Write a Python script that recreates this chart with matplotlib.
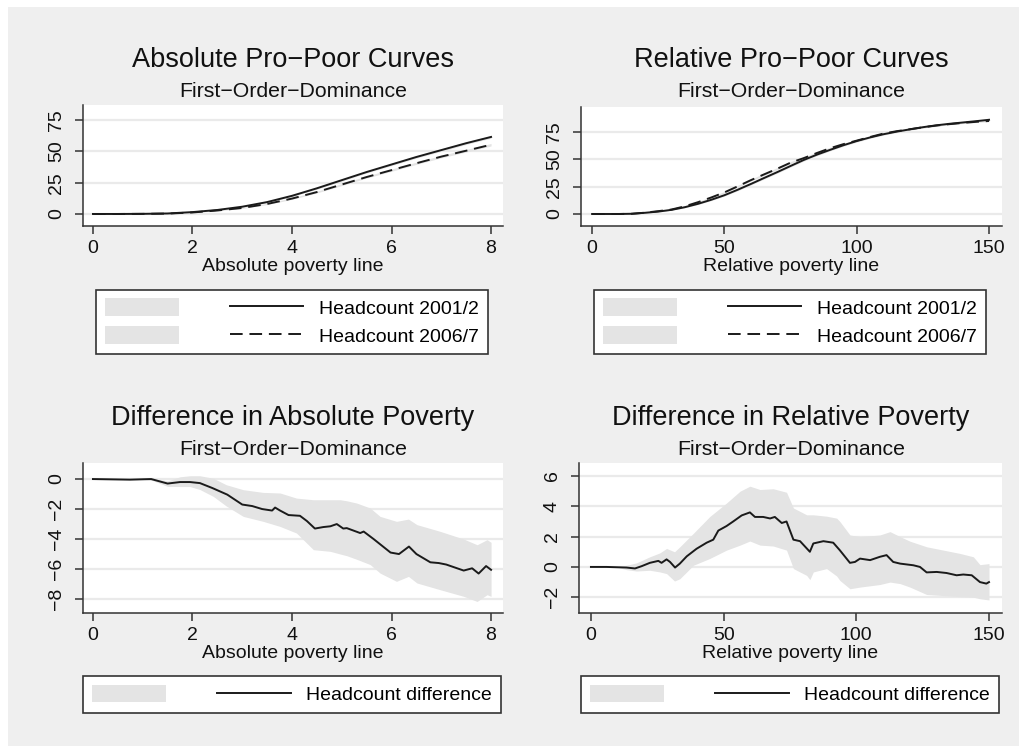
import matplotlib
matplotlib.use("Agg")
import matplotlib.pyplot as plt
import numpy as np
from matplotlib.patches import Patch, Rectangle
from matplotlib.lines import Line2D

plt.rcParams['font.family'] = ['Liberation Sans', 'DejaVu Sans']

# ---------------- data ----------------
# Absolute pro-poor curves (headcount, %)
abs_x = [0, 0.5, 1, 1.5, 2, 2.5, 3, 3.5, 4, 4.5, 5, 5.5, 6, 6.5, 7, 7.5, 8]
abs_h2001 = [0, 0, 0.1, 0.4, 1.5, 3.2, 5.8, 9.5, 14.5, 20.5, 27.0, 33.5, 39.5, 45.5, 51.0, 56.5, 61.5]
abs_h2006 = [0, 0, 0.1, 0.3, 1.2, 2.8, 4.8, 8.0, 12.3, 17.5, 23.5, 29.5, 35.0, 40.5, 45.8, 50.5, 55.3]
abs_ci_hw = [0, 0, 0, 0.1, 0.2, 0.3, 0.4, 0.5, 0.6, 0.7, 0.8, 0.8, 0.9, 0.9, 1.0, 1.0, 1.0]

# Relative pro-poor curves (headcount, %)
rel_x = [0, 5, 10, 15, 20, 25, 30, 35, 40, 45, 50, 55, 60, 65, 70, 75, 80,
         85, 90, 95, 100, 105, 110, 115, 120, 125, 130, 135, 140, 145, 150]
rel_h2001 = [0, 0, 0, 0.2, 1.1, 2.2, 3.8, 6.2, 9.3, 13.0, 17.2, 22.2, 27.5, 33.0, 38.4, 44.0,
             49.5, 54.4, 58.8, 63.0, 66.8, 70.1, 73.0, 75.4, 77.5, 79.5, 81.2, 82.6, 83.8, 85.0, 86.3]
rel_h2006 = [0, 0, 0, 0.2, 1.2, 2.6, 4.1, 7.0, 10.8, 15.1, 19.8, 25.3, 31.0, 36.3, 41.5, 47.0,
             51.2, 55.9, 60.3, 64.0, 67.2, 70.5, 73.6, 75.8, 77.6, 79.4, 81.0, 82.3, 83.4, 84.4, 85.2]
rel_ci_hw = [0, 0, 0, 0.1, 0.2, 0.3, 0.4, 0.5, 0.6, 0.7, 0.8, 0.9, 0.9, 1.0, 1.0, 1.0,
             1.0, 1.0, 0.9, 0.9, 0.9, 0.8, 0.8, 0.8, 0.7, 0.7, 0.7, 0.6, 0.6, 0.6, 0.6]

# Difference in absolute poverty
dabs_x = [0, 0.74, 1.17, 1.5, 1.75, 1.95, 2.15, 2.4, 2.7, 3.0, 3.2, 3.4, 3.6, 3.66, 3.76, 3.93,
          4.16, 4.3, 4.46, 4.63, 4.77, 4.9, 5.03, 5.1, 5.37, 5.44, 5.64, 5.98, 6.15, 6.35, 6.5,
          6.78, 6.95, 7.1, 7.45, 7.62, 7.75, 7.9, 8.0]
dabs_y = [0, -0.04, 0, -0.3, -0.2, -0.2, -0.27, -0.6, -1.04, -1.7, -1.8, -2.0, -2.1, -1.9, -2.1, -2.4,
          -2.45, -2.8, -3.3, -3.2, -3.15, -3.0, -3.3, -3.27, -3.6, -3.5, -4.0, -4.9, -5.0, -4.5, -5.0,
          -5.55, -5.6, -5.7, -6.1, -5.95, -6.3, -5.8, -6.05]
dabs_band_x = [0, 1.0, 1.2, 1.5, 1.75, 1.95, 2.15, 2.42, 2.68, 3.02, 3.42, 3.76, 4.09, 4.43, 4.77,
               4.97, 5.1, 5.3, 5.57, 5.77, 6.1, 6.34, 6.51, 6.98, 7.45, 7.72, 7.92, 8.0]
dabs_upper = [0, 0.02, 0.05, -0.12, 0.15, 0.22, 0.22, 0.05, -0.38, -0.71, -0.89, -0.93, -1.27, -1.38,
              -1.38, -1.38, -1.45, -1.6, -1.93, -2.49, -2.82, -2.67, -3.04, -3.49, -4.0, -4.38, -4.04, -4.22]
dabs_lower = [0, -0.02, -0.1, -0.49, -0.5, -0.5, -0.7, -1.16, -1.8, -2.49, -2.82, -3.16, -3.6, -4.71,
              -4.82, -5.0, -5.11, -5.35, -5.7, -6.27, -6.82, -6.49, -6.93, -7.38, -7.82, -8.16, -7.71, -7.82]

# Difference in relative poverty
drel_x = [0, 5.9, 13.4, 16.6, 19.1, 22.2, 25.4, 26.6, 28.5, 29.8, 31.7, 33.5, 36.1, 39.8, 43.6,
          46.1, 48.0, 51.1, 53.6, 56.8, 59.9, 61.8, 64.9, 67.5, 69.3, 71.9, 73.7, 76.3, 78.8, 82.5,
          83.8, 87.6, 91.3, 93.8, 97.6, 99.5, 101.4, 105.2, 108.9, 111.4, 113.9, 116.5, 121.5, 124.0,
          126.5, 130.3, 134.0, 137.8, 140.3, 143.5, 146.6, 149.0, 150.0]
drel_y = [0, 0, -0.04, -0.1, 0.05, 0.27, 0.4, 0.27, 0.5, 0.33, -0.04, 0.22, 0.7, 1.2, 1.6,
          1.8, 2.4, 2.7, 3.0, 3.4, 3.6, 3.3, 3.3, 3.2, 3.3, 2.9, 3.0, 1.8, 1.7, 1.0,
          1.55, 1.7, 1.6, 1.1, 0.27, 0.33, 0.55, 0.45, 0.67, 0.78, 0.33, 0.22, 0.11, 0.0,
          -0.36, -0.33, -0.4, -0.55, -0.5, -0.55, -1.0, -1.1, -1.0]
drel_band_x = [0, 10, 13.4, 17.2, 22.2, 26, 28.5, 31.5, 33.5, 38.6, 44.8, 51.1, 56.2, 59.9, 63.7,
               68.7, 73.7, 76.3, 81.3, 82.5, 83.8, 88.8, 92.6, 93.8, 97.6, 101.4, 108.9, 112.7,
               116.5, 120.2, 126.5, 132.8, 139.1, 144.1, 146.6, 150]
drel_upper = [0, 0.02, 0.11, 0.27, 0.67, 0.93, 1.22, 1.0, 1.33, 2.22, 3.33, 4.22, 5.0, 5.33, 5.11,
              5.16, 4.93, 3.89, 3.44, 3.44, 3.44, 3.35, 3.22, 3.0, 2.11, 2.0, 2.11, 2.33,
              2.0, 1.7, 1.33, 1.11, 0.89, 0.67, 0.15, 0.22]
drel_lower = [0, -0.02, -0.18, -0.27, -0.22, -0.33, -0.44, -0.93, -0.78, 0.11, 0.56, 1.11, 1.44, 1.71, 1.44,
              1.38, 1.11, -0.11, -0.56, -0.84, -0.33, -0.11, -0.6, -0.89, -1.44, -1.33, -1.16, -1.0,
              -1.1, -1.33, -1.82, -1.89, -1.96, -2.0, -2.1, -2.18]

titles = ["Absolute Pro\u2212Poor Curves", "Relative Pro\u2212Poor Curves",
          "Difference in Absolute Poverty", "Difference in Relative Poverty"]
subtitle = "First\u2212Order\u2212Dominance"
xlabels = ["Absolute poverty line", "Relative poverty line"]
legend_top = ["Headcount 2001/2", "Headcount 2006/7"]
legend_bottom = "Headcount difference"

# ---------------- style ----------------
W, H = 1027, 753
BG = '#efefef'
BAND = '#e4e4e4'
LINE = '#1a1a1a'
DARK = '#333333'
DASH = (0, (6.5, 3.5))

fig = plt.figure(figsize=(W / 100, H / 100), dpi=100, facecolor='white')
fig.patches.append(Rectangle((8 / W, 7 / H), (1019 - 8) / W, (746 - 7) / H,
                             transform=fig.transFigure, facecolor=BG,
                             edgecolor='none', zorder=-10))


def px_axes(left, top, right, bottom):
    return fig.add_axes([left / W, 1 - bottom / H, (right - left) / W, (bottom - top) / H])


def style(ax, xticks, yticks, xlim, ylim, xlabel):
    ax.set_facecolor('white')
    for s in ['top', 'right']:
        ax.spines[s].set_visible(False)
    for s in ['left', 'bottom']:
        ax.spines[s].set_color(DARK)
        ax.spines[s].set_linewidth(1.1)
    ax.set_xlim(*xlim)
    ax.set_ylim(*ylim)
    ax.set_xticks(xticks)
    ax.set_yticks(yticks)
    ax.tick_params(axis='both', direction='out', length=6, width=1.1, color=DARK,
                   labelsize=14, labelcolor='#111111')
    ax.tick_params(axis='x', pad=4)
    ax.tick_params(axis='y', pad=7)
    ax.yaxis.grid(True, color='#eaeaea', lw=1.6)
    ax.set_axisbelow(True)
    for lab in ax.get_yticklabels():
        lab.set_rotation(90)
        lab.set_va('center')
    ax.set_xlabel(xlabel, fontsize=14, labelpad=1, color='#111111')


ax1 = px_axes(83, 105, 503, 226)
ax2 = px_axes(581, 107, 1002, 226)
ax3 = px_axes(83, 463, 503, 613)
ax4 = px_axes(579, 463, 1002, 613)

# panel 1
a_x = np.array(abs_x); hw = np.array(abs_ci_hw)
for ys in (abs_h2001, abs_h2006):
    ys = np.array(ys)
    ax1.fill_between(a_x, ys - hw, ys + hw, color=BAND, lw=0, zorder=2)
ax1.plot(abs_x, abs_h2001, color=LINE, lw=1.4, zorder=3)
ax1.plot(abs_x, abs_h2006, color=LINE, lw=1.4, ls=DASH, zorder=3)
style(ax1, [0, 2, 4, 6, 8], [0, 25, 50, 75], (-0.2, 8.24), (-9.6, 87), xlabels[0])

# panel 2
r_x = np.array(rel_x); hw = np.array(rel_ci_hw)
for ys in (rel_h2001, rel_h2006):
    ys = np.array(ys)
    ax2.fill_between(r_x, ys - hw, ys + hw, color=BAND, lw=0, zorder=2)
ax2.plot(rel_x, rel_h2001, color=LINE, lw=1.4, zorder=3)
ax2.plot(rel_x, rel_h2006, color=LINE, lw=1.4, ls=DASH, zorder=3)
style(ax2, [0, 50, 100, 150], [0, 25, 50, 75], (-4.2, 154.9), (-11, 98), xlabels[1])

# panel 3
ax3.fill_between(dabs_band_x, dabs_lower, dabs_upper, color=BAND, lw=0, zorder=2)
ax3.plot(dabs_x, dabs_y, color=LINE, lw=1.4, zorder=3)
style(ax3, [0, 2, 4, 6, 8], [0, -2, -4, -6, -8], (-0.2, 8.24), (-8.93, 1.07), xlabels[0])

# panel 4
ax4.fill_between(drel_band_x, drel_lower, drel_upper, color=BAND, lw=0, zorder=2)
ax4.plot(drel_x, drel_y, color=LINE, lw=1.4, zorder=3)
style(ax4, [0, 50, 100, 150], [-2, 0, 2, 4, 6], (-4.5, 154.9), (-3.04, 6.86), xlabels[1])

# titles
for cx, ty, sy, t in [(293, 67, 97, titles[0]), (791, 67, 97, titles[1]),
                      (293, 425, 455, titles[2]), (791, 425, 455, titles[3])]:
    fig.text(cx / W, 1 - ty / H, t, ha='center', va='baseline', fontsize=19.5, color='#111111')
    fig.text(cx / W, 1 - sy / H, subtitle, ha='center', va='baseline', fontsize=15.3, color='#111111')

# legends
band_h = Patch(facecolor=BAND, edgecolor='none')
l_solid = Line2D([], [], color=LINE, lw=1.4)
l_dash = Line2D([], [], color=LINE, lw=1.4, ls=DASH)

common = dict(loc='center', frameon=True, fancybox=False, edgecolor=DARK, facecolor='white',
              framealpha=1, fontsize=14, handlelength=3.8, handleheight=1.0,
              handletextpad=0.8, columnspacing=1.8, borderaxespad=0, borderpad=0.45)

for cx in (292, 790):
    leg = fig.legend(handles=[band_h, band_h, l_solid, l_dash],
                     labels=['', '', legend_top[0], legend_top[1]], ncol=2,
                     bbox_to_anchor=(cx / W, 1 - 322 / H), labelspacing=0.45, **common)
    leg.get_frame().set_linewidth(1.2)

for cx in (292, 790):
    leg = fig.legend(handles=[band_h, l_solid], labels=['', legend_bottom], ncol=2,
                     bbox_to_anchor=(cx / W, 1 - 694.5 / H), **common)
    leg.get_frame().set_linewidth(1.2)

fig.savefig('out.png', dpi=100, facecolor='white')
